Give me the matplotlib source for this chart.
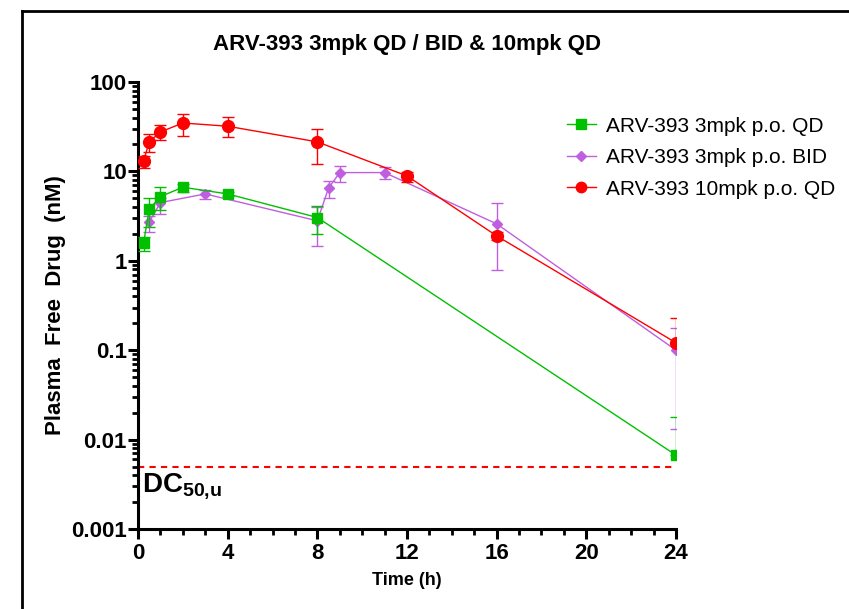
import matplotlib
matplotlib.use("Agg")
import matplotlib.pyplot as plt
from matplotlib.ticker import FixedLocator, FuncFormatter, LogLocator, NullFormatter
from matplotlib.lines import Line2D

plt.rcParams['font.family'] = ['Liberation Sans', 'DejaVu Sans']
plt.rcParams['mathtext.fontset'] = 'custom'
plt.rcParams['mathtext.rm'] = 'Liberation Sans'
plt.rcParams['mathtext.bf'] = 'Liberation Sans:bold'

# ARV-393 3mpk p.o. QD
t_qd3 = [0.25, 0.5, 1, 2, 4, 8, 24]
qd3 = [1.58, 3.78, 5.23, 6.65, 5.6, 3.05, 0.0067]
qd3_lo = [0.28, 1.4, 1.5, 0.8, 0.3, 1.05, 0.0]
qd3_hi = [0.28, 1.3, 1.5, 0.6, 0.3, 1.0, 0.0113]

# ARV-393 3mpk p.o. BID
t_bid3 = [0.5, 1, 3, 8, 8.5, 9, 11, 16, 24]
bid3 = [2.71, 4.48, 5.6, 2.8, 6.5, 9.7, 9.7, 2.59, 0.100]
bid3_lo = [0.6, 1.1, 0.7, 1.35, 1.4, 2.1, 1.5, 1.8, 0.087]
bid3_hi = [0.45, 0.6, 0.6, 1.2, 1.4, 1.9, 1.4, 1.8, 0.078]

# ARV-393 10mpk p.o. QD
t_qd10 = [0.25, 0.5, 1, 2, 4, 8, 12, 16, 24]
qd10 = [13.1, 21.4, 27.6, 34.8, 32.0, 21.4, 8.9, 1.9, 0.121]
qd10_lo = [2.1, 4.8, 5.1, 9.9, 7.7, 9.2, 1.2, 0.2, 0.0]
qd10_hi = [1.8, 4.7, 5.2, 9.5, 8.6, 8.6, 0.9, 0.2, 0.108]

labels = ['ARV-393 3mpk p.o. QD', 'ARV-393 3mpk p.o. BID', 'ARV-393 10mpk p.o. QD']
colors = ['#00C000', '#BF5FDF', '#FF0000']
dc50u = 0.005

fig = plt.figure(figsize=(8.49, 6.09), dpi=100)
ax = fig.add_axes([138 / 849, 1 - 529 / 609, (676 - 138) / 849, (529 - 82) / 609])

series = [
    (t_bid3, bid3, bid3_lo, bid3_hi, 'D', 5.5, colors[1], 2),
    (t_qd3, qd3, qd3_lo, qd3_hi, 's', 7, colors[0], 3),
    (t_qd10, qd10, qd10_lo, qd10_hi, 'o', 8.5, colors[2], 4),
]
for t, y, lo, hi, mk, ms, c, z in series:
    ax.errorbar(t, y, yerr=[lo, hi], color=c, marker=mk, markersize=ms,
                linewidth=1.0, elinewidth=1.0, capsize=4, capthick=1.0,
                zorder=z, clip_on=True)

ax.axhline(dc50u, color='#FF0000', linestyle=(0, (3, 2.5)), linewidth=1.5, zorder=1)
ax.text(0.2, dc50u * 0.88, r'$\mathbf{DC}_{\mathbf{50{,}u}}$', fontsize=20,
        va='top', ha='left')

ax.set_yscale('log')
ax.set_ylim(0.001, 100)
ax.set_xlim(0, 24)
ax.yaxis.set_major_locator(LogLocator(base=10, numticks=10))
ax.yaxis.set_minor_locator(LogLocator(base=10, subs=range(2, 10), numticks=10))
ax.yaxis.set_major_formatter(FuncFormatter(lambda v, p: '%g' % v))
ax.yaxis.set_minor_formatter(NullFormatter())
ax.xaxis.set_major_locator(FixedLocator([0, 4, 8, 12, 16, 20, 24]))
ax.xaxis.set_minor_locator(FixedLocator(list(range(0, 25))))

for s in ['top', 'right']:
    ax.spines[s].set_visible(False)
for s in ['left', 'bottom']:
    ax.spines[s].set_linewidth(2.2)

ax.tick_params(axis='both', which='major', length=7, width=2.2, labelsize=16, pad=3)
ax.tick_params(axis='y', which='major', pad=1)
ax.tick_params(axis='both', which='minor', length=4, width=2.0)
for lab in ax.get_xticklabels() + ax.get_yticklabels():
    lab.set_fontweight('bold')

ax.set_title('ARV-393 3mpk QD / BID & 10mpk QD', fontsize=16, fontweight='bold', pad=23)
ax.set_xlabel('Time (h)', fontsize=13, fontweight='bold', labelpad=6)
ax.set_ylabel('Plasma  Free  Drug  (nM)', fontsize=16, fontweight='bold', labelpad=4)

handles = [Line2D([], [], color=colors[0], marker='s', markersize=6.5, linewidth=1.0),
           Line2D([], [], color=colors[1], marker='D', markersize=5, linewidth=1.0),
           Line2D([], [], color=colors[2], marker='o', markersize=7.5, linewidth=1.0)]
fig.legend(handles, labels, loc='upper left', bbox_to_anchor=(548 / 849, 1 - 98 / 609),
           frameon=False, fontsize=15, handlelength=1.4, handletextpad=0.5,
           labelspacing=0.6)

# border of the pasted figure (left and top edges)
fig.add_artist(Line2D([22 / 849, 22 / 849], [0, 1 - 11 / 609], color='black',
                      linewidth=2, transform=fig.transFigure))
fig.add_artist(Line2D([22 / 849, 1], [1 - 11 / 609, 1 - 11 / 609], color='black',
                      linewidth=2, transform=fig.transFigure))

fig.savefig('out.png', dpi=100)
